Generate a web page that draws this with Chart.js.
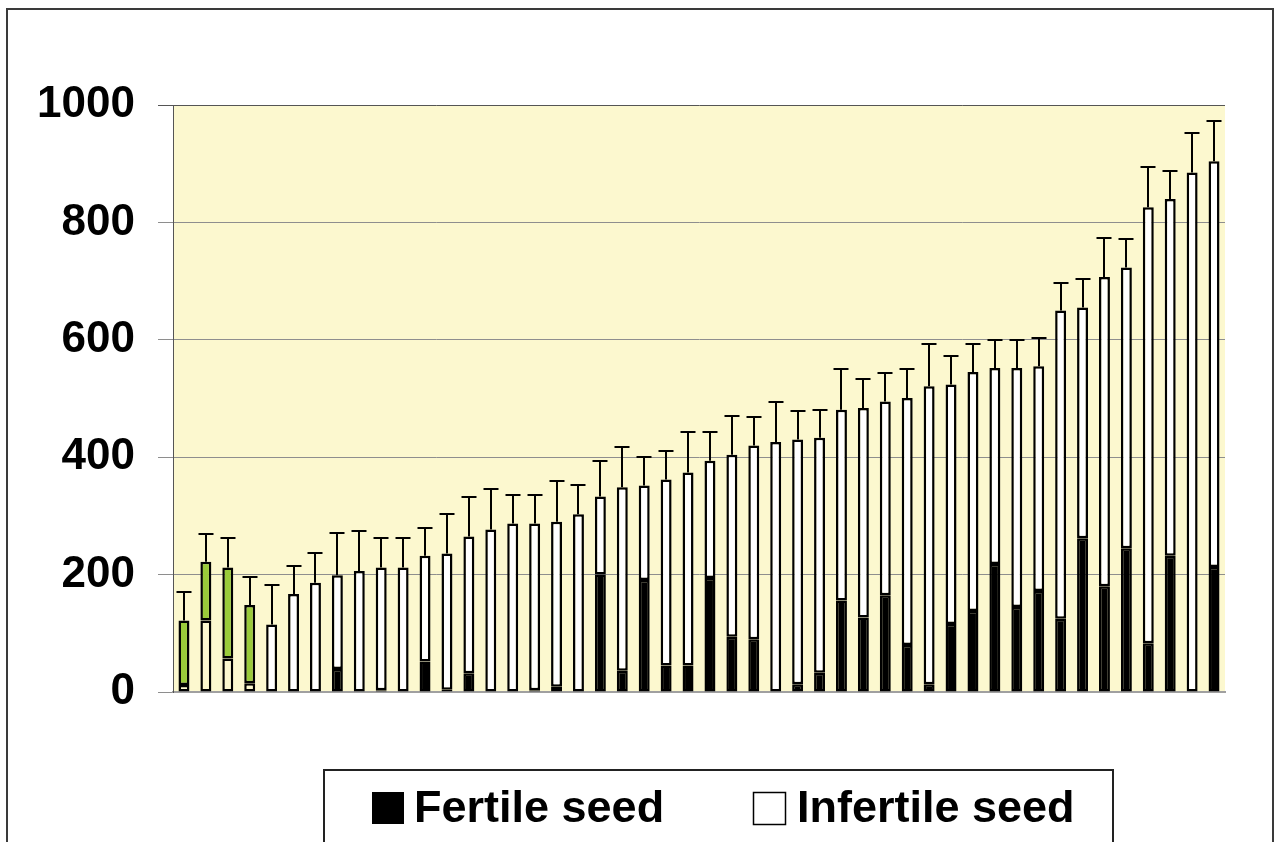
<!DOCTYPE html>
<html><head><meta charset="utf-8">
<script src="https://cdn.jsdelivr.net/npm/chart.js@4.4.1/dist/chart.umd.min.js"></script>
<style>
html,body{margin:0;padding:0;background:#fff;overflow:hidden}
#wrap{position:relative;width:1277px;height:842px}
#frame{position:absolute;left:6px;top:8px;width:1268px;height:900px;border:2px solid #3a3a3a;box-sizing:border-box;pointer-events:none}
canvas{position:absolute;left:0;top:0}
</style></head><body>
<div id="wrap"><canvas id="c" width="1277" height="842"></canvas><div id="frame"></div></div>
<script>
// ---- data ----
const categories = ['1','2','3','4','5','6','7','8','9','10','11','12','13','14','15','16','17','18','19','20','21','22','23','24',
                    '25','26','27','28','29','30','31','32','33','34','35','36','37','38','39','40','41','42','43','44','45','46','47','48'];
const fertile   = [12,122,57,15,0,0,0,39,0,3,0,52,4,32,0,0,3,9,0,200,36,191,45,45,
                   194,94,90,0,13,33,156,127,165,80,13,116,138,218,145,172,125,262,180,245,83,232,0,213];
const infertile = [110,100,155,133,115,167,186,160,206,209,212,180,232,233,277,287,284,281,303,133,313,161,317,329,
                   200,310,330,426,417,400,325,357,330,421,508,408,407,334,407,383,525,393,527,478,743,608,885,691];
const errorUp   = [48,48,50,48,68,48,50,72,68,50,50,48,68,67,69,49,49,69,49,60,68,48,48,69,
                   49,67,48,68,48,48,69,49,48,49,71,48,48,47,47,48,47,48,67,48,68,48,67,68];
const highlighted = [true,true,true,true,false,false,false,false,false,false,false,false,false,false,false,false,false,false,false,false,false,false,false,false,
                     false,false,false,false,false,false,false,false,false,false,false,false,false,false,false,false,false,false,false,false,false,false,false,false];
const yTickValues = [0,200,400,600,800,1000];
const seriesNames = ['Fertile seed','Infertile seed'];

// ---- styles ----
const PLOT_BG = '#fcf8cf';
const GREEN = '#9acb3a';
const fertileColors = highlighted.map(h => h ? PLOT_BG : '#000000');
const infertileColors = highlighted.map(h => h ? GREEN : '#ffffff');
const FONT = '"Liberation Sans", Arial, sans-serif';

const bgPlugin = {
  id: 'bg',
  beforeDraw(chart) {
    const {ctx, chartArea: a} = chart;
    ctx.save();
    ctx.fillStyle = '#ffffff';
    ctx.fillRect(0, 0, chart.width, chart.height);
    ctx.fillStyle = PLOT_BG;
    ctx.fillRect(a.left, a.top, a.right - a.left, a.bottom - a.top);
    ctx.restore();
  }
};

const errorPlugin = {
  id: 'errbars',
  afterDatasetsDraw(chart) {
    const {ctx, scales: {y}} = chart;
    const meta = chart.getDatasetMeta(1);
    ctx.save();
    ctx.strokeStyle = '#000';
    ctx.lineWidth = 2;
    meta.data.forEach((el, i) => {
      const total = fertile[i] + infertile[i];
      const y0 = y.getPixelForValue(total);
      const y1 = Math.round(y.getPixelForValue(total + errorUp[i]));
      const x = Math.round(el.x);
      ctx.beginPath();
      ctx.moveTo(x, y0);
      ctx.lineTo(x, y1);
      ctx.moveTo(x - 7.5, y1);
      ctx.lineTo(x + 7.5, y1);
      ctx.stroke();
    });
    ctx.restore();
  }
};

const legendPlugin = {
  id: 'customLegend',
  afterDraw(chart) {
    const ctx = chart.ctx;
    ctx.save();
    ctx.strokeStyle = '#222';
    ctx.lineWidth = 2;
    ctx.strokeRect(324, 770, 789, 100);
    ctx.font = 'bold 45px ' + FONT;
    ctx.textBaseline = 'alphabetic';
    ctx.fillStyle = '#000';
    ctx.fillRect(372, 792, 32, 32);
    ctx.fillText(chart.data.datasets[0].label, 414, 822);
    ctx.fillStyle = '#fff';
    ctx.fillRect(753, 792, 32, 32);
    ctx.lineWidth = 1.5;
    ctx.strokeStyle = '#000';
    ctx.strokeRect(753.5, 792.5, 32, 32);
    ctx.fillStyle = '#000';
    ctx.fillText(chart.data.datasets[1].label, 797, 822);
    ctx.restore();
  }
};

new Chart(document.getElementById('c'), {
  type: 'bar',
  data: {
    labels: categories,
    datasets: [
      { label: seriesNames[0], data: fertile, backgroundColor: fertileColors, borderColor: '#000', borderWidth: 2.5, borderSkipped: false, inflateAmount: 0 },
      { label: seriesNames[1], data: infertile, backgroundColor: infertileColors, borderColor: '#000', borderWidth: 2.5, borderSkipped: false, inflateAmount: 0 }
    ]
  },
  options: {
    responsive: false,
    devicePixelRatio: 1,
    animation: false,
    events: [],
    layout: { padding: { left: 0, top: 105, right: 52, bottom: 150 } },
    datasets: { bar: { categoryPercentage: 1, barPercentage: 0.5 } },
    plugins: { legend: { display: false }, tooltip: { enabled: false }, title: { display: false } },
    scales: {
      x: {
        stacked: true,
        grid: { display: false },
        ticks: { display: false },
        border: { display: true, color: '#a0a0a0', width: 2 },
        afterFit(s) { s.height = 0; }
      },
      y: {
        stacked: true,
        min: 0, max: 1000,
        afterBuildTicks(s) { s.ticks = yTickValues.map(v => ({ value: v })); },
        ticks: {
          color: '#000',
          font: { family: FONT, size: 44, weight: 'bold' },
          padding: 23,
          callback: v => String(v)
        },
        grid: {
          color: c => (c.tick && c.tick.value === 1000) ? '#555555' : '#8e8e8e',
          lineWidth: 1,
          tickLength: 15
        },
        border: { display: true, color: '#555', width: 1 },
        afterFit(s) { s.width = 173; }
      }
    }
  },
  plugins: [bgPlugin, errorPlugin, legendPlugin]
});
</script>
</body></html>
